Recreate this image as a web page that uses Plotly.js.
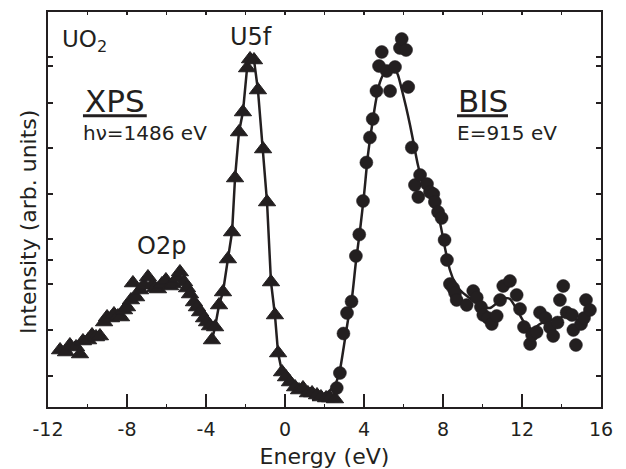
<!DOCTYPE html>
<html>
<head>
<meta charset="utf-8">
<script src="https://cdn.plot.ly/plotly-3.0.1.min.js"></script>
<style>
  html, body { margin: 0; padding: 0; background: #fff; }
  #chart { width: 626px; height: 469px; }
</style>
</head>
<body>
<div id="chart"></div>
<script>
// ---- XPS (triangles): energy (eV) and intensity (arb. units) ----
var xpsEnergy = [
  -11.39, -11.09, -10.89, -10.58, -10.38, -10.23, -9.97, -9.77, -9.57, -9.37,
  -9.16, -9.01, -8.81, -8.66, -8.46, -8.30, -8.15, -8.00, -7.80, -7.70,
  -7.54, -7.34, -7.14, -6.94, -6.73, -6.58, -6.43, -6.23, -6.03, -5.82,
  -5.67, -5.47, -5.32, -5.11, -4.96, -4.81, -4.61, -4.46, -4.30, -4.10,
  -3.95, -3.80,
  -3.70, -3.54, -3.34, -3.14, -2.89, -2.68, -2.53, -2.33, -2.13, -1.92,
  -1.77, -1.57, -1.37, -1.11, -0.91, -0.71, -0.51, -0.35, -0.15, 0.05,
  0.25, 0.51, 0.71, 0.91, 1.16, 1.37, 1.62, 1.82, 2.08, 2.28, 2.53
];
var xpsIntensity = [
  57, 55, 62, 60, 53, 66, 67, 72, 70, 71,
  85, 90, 89, 93, 91, 90, 97, 100, 107, 124,
  110, 117, 122, 130, 122, 119, 118, 123, 127, 121,
  123, 129, 135, 125, 119, 113, 105, 100, 95, 89,
  85, 81,
  67, 80, 102, 115, 148, 175, 229, 275, 295, 339,
  348, 347, 317, 258, 205, 125, 92, 54, 35, 30,
  25, 20, 17, 19, 14, 14, 12, 10, 9, 9, 8
];
// the connecting line of the U5f peak starts at this energy
var xpsLineStart = -3.70;

// ---- BIS (circles) ----
var bisEnergy = [
  2.62, 2.78, 2.96, 3.14, 3.37, 3.59, 3.76, 3.95, 4.12, 4.30,
  4.44, 4.63, 4.76, 4.90, 5.15, 5.32, 5.57, 5.82, 5.91, 6.13,
  6.24, 6.42, 6.58, 6.75, 6.84, 7.19, 7.34, 7.51, 7.59, 7.75,
  7.93, 8.08, 8.20, 8.35, 8.51, 8.61, 8.69, 9.20, 9.53, 9.71,
  9.92, 10.04, 10.28, 10.47, 10.72, 10.89, 11.05, 11.39, 11.73, 11.90,
  12.10, 12.41, 12.51, 12.74, 12.91, 13.19, 13.42, 13.58, 13.80, 13.92,
  14.09, 14.26, 14.53, 14.60, 14.73, 14.99, 15.14, 15.24, 15.44
];
var bisIntensity = [
  19, 34, 73.5, 94, 105.5, 151, 172.5, 206, 244.5, 269.5,
  288, 316, 341, 355, 336, 316, 340, 359, 368, 357,
  320, 259.5, 222, 210, 232, 223, 215, 213, 205, 195,
  189, 167, 147, 123, 119, 114, 107, 102, 116, 109.5,
  100, 92, 89, 83, 91, 107, 121, 126, 112, 98,
  80, 63, 72, 75, 94.5, 89, 79.5, 71, 84.5, 107,
  121, 94.5, 92, 77, 62, 83, 89, 107, 97
];

// ---- BIS fitted curve ----
var fitEnergy = [
  1.37, 1.77, 2.18, 2.53, 2.78, 2.99, 3.19, 3.39, 3.59, 3.80,
  4.00, 4.20, 4.41, 4.61, 4.81, 5.06, 5.32, 5.52, 5.72, 5.92,
  6.13, 6.33, 6.53, 6.73, 6.94, 7.14, 7.34, 7.59, 7.85, 8.10,
  8.35, 8.61, 8.86, 9.27, 9.67, 10.08, 10.38, 10.73, 11.09, 11.39,
  11.75, 12.10, 12.51, 12.91, 13.32, 13.72, 14.13, 14.53, 14.84, 15.14, 15.44
];
var fitIntensity = [
  7, 10, 15, 22, 37, 62, 87, 109, 145, 177,
  212, 252, 282, 307, 325, 335, 339, 339, 332, 317,
  300, 282, 262, 242, 227, 219, 212, 200, 184, 159,
  137, 124, 117, 110, 105, 100, 99, 104, 109, 108,
  97, 85, 78, 83, 87, 87, 91, 89, 87, 93, 97
];

// ---- axes ----
var xRange = [-12, 16];
var yRange = [0, 395];
var xTickVals = [-12, -8, -4, 0, 4, 8, 12, 16];
var xTickText = ['-12', '-8', '-4', '0', '4', '8', '12', '16'];
var yTickVals = [31, 77, 123, 147, 168, 213, 259, 304, 341, 350];

var INK = '#231f20';
var FONT = 'DejaVu Sans, sans-serif';

var k = xpsEnergy.indexOf(xpsLineStart);

var traces = [
  { x: xpsEnergy.slice(k), y: xpsIntensity.slice(k), type: 'scatter', mode: 'lines',
    line: { color: INK, width: 2.5 }, hoverinfo: 'skip', showlegend: false },
  { x: fitEnergy, y: fitIntensity, type: 'scatter', mode: 'lines',
    line: { color: INK, width: 2.5, shape: 'spline', smoothing: 0.6 }, showlegend: false },
  { x: xpsEnergy, y: xpsIntensity, type: 'scatter', mode: 'markers',
    marker: { symbol: 'triangle-up', size: 15, color: INK, line: { color: INK, width: 1 } },
    showlegend: false },
  { x: bisEnergy, y: bisIntensity, type: 'scatter', mode: 'markers',
    marker: { symbol: 'circle', size: 13, color: INK, line: { color: INK, width: 0.5 } },
    showlegend: false },
  { x: [], y: [], xaxis: 'x2', type: 'scatter', mode: 'markers', showlegend: false }
];

function ann(text, x, y, size, xanchor) {
  return { text: text, x: x, y: y, xref: 'x', yref: 'y', showarrow: false,
    xanchor: xanchor || 'center', yanchor: 'middle',
    font: { family: FONT, size: size, color: INK } };
}

var layout = {
  width: 626, height: 469,
  margin: { l: 48, r: 25, t: 12, b: 62, pad: 0 },
  paper_bgcolor: '#ffffff', plot_bgcolor: '#ffffff',
  showlegend: false,
  xaxis: {
    range: xRange, tickmode: 'array', tickvals: xTickVals, ticktext: xTickText,
    ticks: 'inside', ticklen: 13, tickwidth: 2, tickcolor: INK,
    showline: true, linewidth: 2, linecolor: INK, mirror: true,
    showgrid: false, zeroline: false, ticklabelstandoff: 4,
    minor: { dtick: 2, tick0: -12, ticks: 'inside', ticklen: 3, tickwidth: 1.5, tickcolor: INK, showgrid: false },
    tickfont: { family: FONT, size: 19, color: INK },
    title: { text: 'Energy (eV)', font: { family: FONT, size: 22, color: INK }, standoff: 12 }
  },
  xaxis2: {
    overlaying: 'x', side: 'top', anchor: 'y', range: xRange,
    tickmode: 'linear', tick0: -12, dtick: 2,
    ticks: 'inside', ticklen: 3, tickwidth: 1.5, tickcolor: INK,
    showticklabels: false, showline: false, showgrid: false, zeroline: false
  },
  yaxis: {
    range: yRange, tickmode: 'array', tickvals: yTickVals,
    ticks: 'inside', ticklen: 5, tickwidth: 1.5, tickcolor: INK,
    showticklabels: false, showline: true, linewidth: 2, linecolor: INK, mirror: 'ticks',
    showgrid: false, zeroline: false
  },
  annotations: [
    ann('UO<sub>2</sub>', -11.38, 366, 23, 'left'),
    ann('U5f', -1.70, 370.5, 24),
    ann('XPS', -8.61, 306, 31),
    ann('h\u03bd=1486 eV', -10.33, 274, 20, 'left'),
    ann('BIS', 10.0, 306, 31),
    ann('E=915 eV', 8.61, 274.5, 20, 'left'),
    ann('O2p', -6.25, 161, 24),
    { text: 'Intensity (arb. units)', xref: 'paper', yref: 'y', x: -0.036, y: 185,
      showarrow: false, textangle: -90, xanchor: 'center', yanchor: 'middle',
      font: { family: FONT, size: 22, color: INK } }
  ],
  shapes: [
    { type: 'line', xref: 'x', yref: 'y', x0: -10.23, x1: -7.0, y0: 291.3, y1: 291.3,
      line: { color: INK, width: 3 } },
    { type: 'line', xref: 'x', yref: 'y', x0: 8.71, x1: 11.29, y0: 291.3, y1: 291.3,
      line: { color: INK, width: 3 } }
  ]
};

Plotly.newPlot('chart', traces, layout, { staticPlot: true, displayModeBar: false });
</script>
</body>
</html>
